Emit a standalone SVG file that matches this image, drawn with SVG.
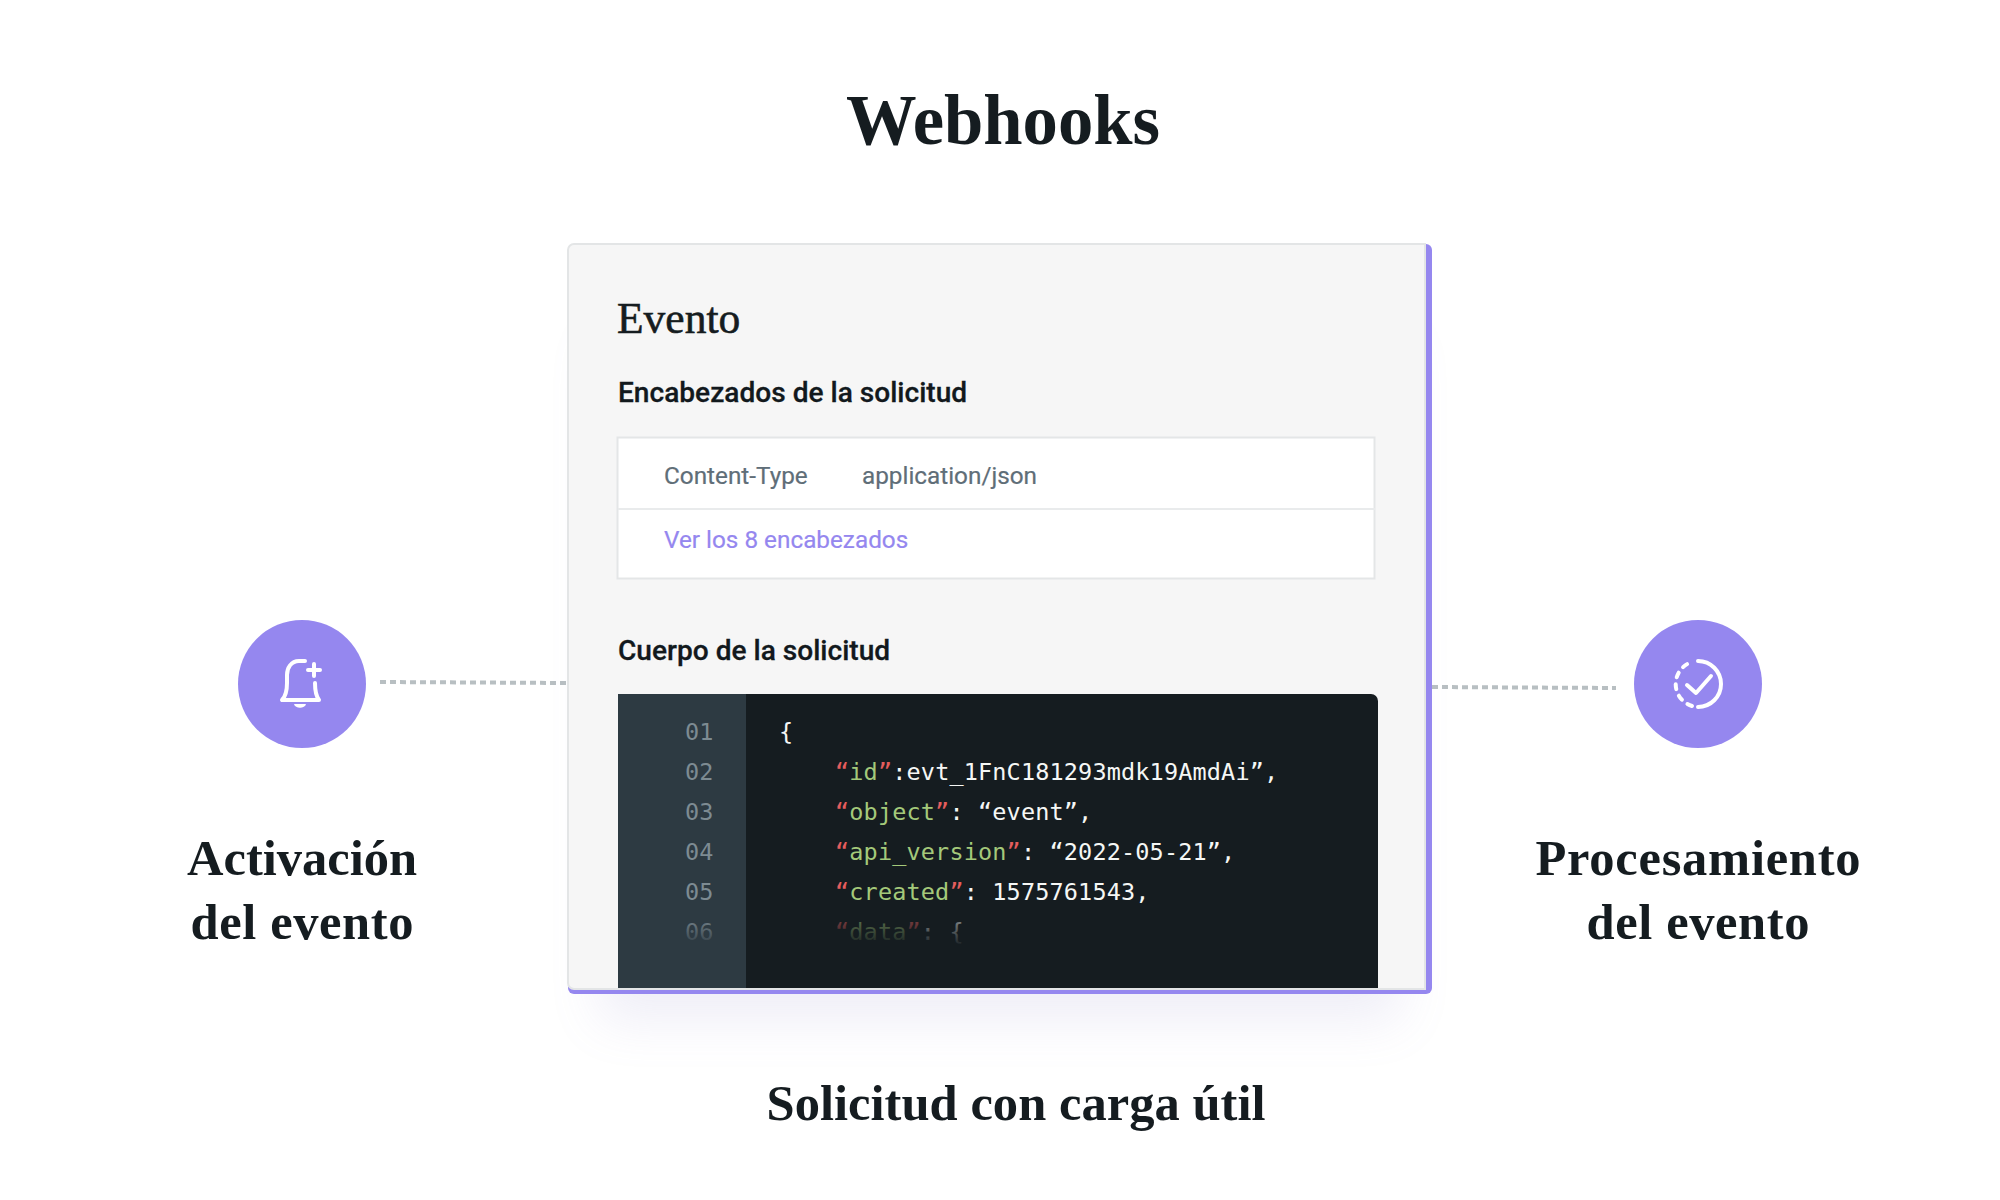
<svg xmlns="http://www.w3.org/2000/svg" width="2000" height="1200" viewBox="0 0 2000 1200">
<style>
.serif{font-family:"Liberation Serif","Noto Sans CJK SC",serif;fill:#151c20;font-weight:700}
.label{font-size:50.500px;text-anchor:middle}
.sans{font-family:Roboto,"Liberation Sans",sans-serif}
.head{font-size:28.100px;font-weight:500;fill:#12191d;stroke:#12191d;stroke-width:.3px}
.cell{font-size:24.300px;fill:#5f6e78;stroke:#5f6e78;stroke-width:.2px}
.mono{font-family:"DejaVu Sans Mono","Liberation Mono",monospace;font-size:23.500px;letter-spacing:.15px}
.ln{fill:#7d8b92}
.c{fill:#f5f7f5}
.k{fill:#a4c97a}
.q{fill:#e35d5d}
.dots{fill:none;stroke:#b8bfc2;stroke-width:4;stroke-dasharray:6 4}
.ico{fill:none;stroke:#fff;stroke-width:4;stroke-linecap:round;stroke-linejoin:round}
</style>
<defs>
<filter id="blur" x="-30%" y="-30%" width="160%" height="160%"><feGaussianBlur stdDeviation="26"/></filter>
<linearGradient id="fadeL" x1="0" y1="0" x2="0" y2="1"><stop offset="0" stop-color="#2d3a42" stop-opacity="0"/><stop offset="1" stop-color="#2d3a42"/></linearGradient>
<linearGradient id="fadeC" x1="0" y1="0" x2="0" y2="1"><stop offset="0" stop-color="#151c20" stop-opacity=".45"/><stop offset="1" stop-color="#151c20"/></linearGradient>
<clipPath id="codeclip"><path d="M618 694H1371a7 7 0 0 1 7 7V988H618Z"/></clipPath>
</defs>
<rect width="2000" height="1200" fill="#fff"/>
<text id="title" class="serif" x="1003" y="144" font-size="71" text-anchor="middle" textLength="314" lengthAdjust="spacingAndGlyphs">Webhooks</text>
<g id="connectors">
<path class="dots" d="M380 682L567 683"/>
<path class="dots" d="M1432 687L1616 688"/>
</g>
<g id="trigger">
<circle cx="302" cy="684" r="64" fill="#9587ef"/>
<path class="ico" d="M305 661H299C291 661 287 668 287 675V683C287 693 285 697 282 700H319C316 696 315 692 315 683"/>
<path class="ico" d="M314 664V676M308 670H320"/>
<path d="M294 704H306C305 709 295 709 294 704Z" fill="#fff"/>
<text class="serif label" x="302" y="875" textLength="230">Activación</text>
<text class="serif label" x="302" y="939" textLength="223">del evento</text>
</g>
<g id="processing">
<circle cx="1698" cy="684" r="64" fill="#9587ef"/>
<path class="ico" d="M1698 661A23 23 0 0 1 1698 707"/>
<path class="ico" stroke-dasharray="5 7" d="M1692 706A23 23 0 0 1 1692 662"/>
<path class="ico" d="M1687 685L1696 693L1711 676"/>
<text class="serif label" x="1698" y="875" textLength="325">Procesamiento</text>
<text class="serif label" x="1698" y="939" textLength="223">del evento</text>
</g>
<g id="card">
<rect x="600" y="340" width="800" height="680" fill="#8d86c8" opacity=".14" filter="url(#blur)"/>
<rect x="568" y="244" width="864" height="750" rx="6" fill="#9587ef"/>
<path d="M574 244H1425V989H574a6 6 0 0 1-6-6V250a6 6 0 0 1 6-6Z" fill="#f6f6f6" stroke="#e3e5e6" stroke-width="2"/>
<text class="serif" x="617" y="333" font-size="43.500" style="font-weight:400;stroke:#151c20;stroke-width:.6px">Evento</text>
<text class="sans head" x="618" y="402">Encabezados de la solicitud</text>
<rect x="617.500" y="437.500" width="757" height="141" fill="#fff" stroke="#e4e6e7" stroke-width="2"/>
<path d="M618 509H1375" stroke="#e9ebec" stroke-width="2"/>
<text class="sans cell" x="664" y="484">Content-Type</text>
<text class="sans cell" x="862" y="484">application/json</text>
<text class="sans cell" x="664" y="548" style="fill:#9587ef;stroke:#9587ef">Ver los 8 encabezados</text>
<text class="sans head" x="618" y="660">Cuerpo de la solicitud</text>
<g clip-path="url(#codeclip)">
<rect x="618" y="694" width="760" height="295" fill="#151c20"/>
<rect x="618" y="694" width="128" height="295" fill="#2d3a42"/>
<g class="mono ln">
<text x="685" y="740">01</text><text x="685" y="780">02</text><text x="685" y="820">03</text><text x="685" y="860">04</text><text x="685" y="900">05</text><text x="685" y="940">06</text>
</g>
<g class="mono c">
<text x="779" y="740">{</text>
<text x="835" y="780"><tspan class="q">“</tspan><tspan class="k">id</tspan><tspan class="q">”</tspan>:evt_1FnC181293mdk19AmdAi”,</text>
<text x="835" y="820"><tspan class="q">“</tspan><tspan class="k">object</tspan><tspan class="q">”</tspan>: “event”,</text>
<text x="835" y="860"><tspan class="q">“</tspan><tspan class="k">api_version</tspan><tspan class="q">”</tspan>: “2022-05-21”,</text>
<text x="835" y="900"><tspan class="q">“</tspan><tspan class="k">created</tspan><tspan class="q">”</tspan>: 1575761543,</text>
<text x="835" y="940"><tspan class="q">“</tspan><tspan class="k">data</tspan><tspan class="q">”</tspan>: {</text>
</g>
<rect x="618" y="915" width="128" height="32" fill="url(#fadeL)"/>
<rect x="746" y="915" width="632" height="32" fill="url(#fadeC)"/>
</g>
</g>
<text id="payload" class="serif label" x="1016" y="1120" textLength="499">Solicitud con carga útil</text>
</svg>
